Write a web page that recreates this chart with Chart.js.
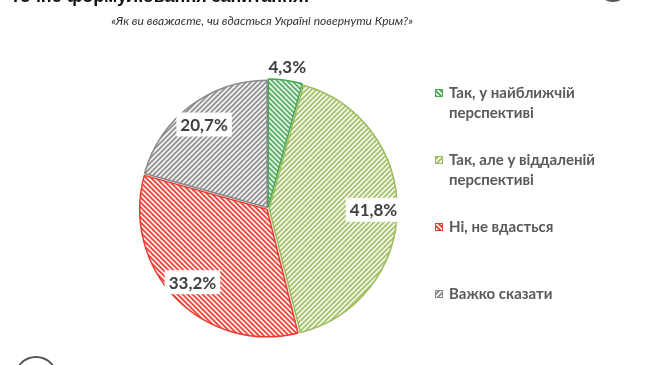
<!DOCTYPE html>
<html>
<head>
<meta charset="utf-8">
<script src="https://cdn.jsdelivr.net/npm/chart.js@4/dist/chart.umd.min.js"></script>
<style>
  html, body { margin: 0; padding: 0; background: #fff; }
  #wrap { position: relative; width: 650px; height: 365px; overflow: hidden; }
  #cut { position: absolute; left: 10px; top: -14px; font: bold 18px "Liberation Sans", Arial, sans-serif; color: #111; white-space: nowrap; }
  .ring { position: absolute; border: 2px solid #555; border-radius: 50%; }
</style>
</head>
<body>
<div id="wrap">
  <div id="cut">Точне формулювання запитання:</div>
  <div class="ring" style="left:597px; top:-30px; width:28px; height:28px;"></div>
  <div class="ring" style="left:14px; top:356px; width:40px; height:40px;"></div>
  <canvas id="myChart" width="650" height="365"></canvas>
</div>
<script>
const subtitle = '«Як ви вважаєте, чи вдасться Україні повернути Крим?»';
const categories = [
    ['Так, у найближчій', 'перспективі'],
    ['Так, але у віддаленій', 'перспективі'],
    ['Ні, не вдасться'],
    ['Важко сказати']
];
const values = [4.3, 41.8, 33.2, 20.7];
const valueLabels = ['4,3%', '41,8%', '33,2%', '20,7%'];
const colors = ['#45a853', '#9dbd5c', '#ec3a2e', '#888888'];
const hatchDir = ['\\', '/', '\\', '/'];

// штриховка для секторів
function makeHatch(color, dir) {
    const s = 5;
    const c = document.createElement('canvas');
    c.width = s; c.height = s;
    const g = c.getContext('2d');
    g.fillStyle = '#fff';
    g.fillRect(0, 0, s, s);
    g.strokeStyle = color;
    g.lineWidth = 1.8;
    g.beginPath();
    if (dir === '/') {
        g.moveTo(-1, s + 1); g.lineTo(s + 1, -1);
        g.moveTo(-1, 1); g.lineTo(1, -1);
        g.moveTo(s - 1, s + 1); g.lineTo(s + 1, s - 1);
    } else {
        g.moveTo(-1, -1); g.lineTo(s + 1, s + 1);
        g.moveTo(s - 1, -1); g.lineTo(s + 1, 1);
        g.moveTo(-1, s - 1); g.lineTo(1, s + 1);
    }
    g.stroke();
    return g.createPattern(c, 'repeat');
}

const ctx = document.getElementById('myChart').getContext('2d');
const patterns = colors.map((c, i) => makeHatch(c, hatchDir[i]));

// підписи значень з білим фоном
const valueLabelPlugin = {
    id: 'valueLabels',
    afterDatasetsDraw(chart) {
        const meta = chart.getDatasetMeta(0);
        const g = chart.ctx;
        g.save();
        g.font = 'bold 17px Lato, "Open Sans", sans-serif';
        g.textAlign = 'center';
        g.textBaseline = 'middle';
        meta.data.forEach((arc, i) => {
            const mid = (arc.startAngle + arc.endAngle) / 2;
            const off = arc.options.offset || 0;
            const r = i === 0 ? arc.outerRadius + 11 : arc.outerRadius * 0.79;
            const x = arc.x + Math.cos(mid) * (r + off);
            const y = arc.y + Math.sin(mid) * (r + off);
            const w = g.measureText(valueLabels[i]).width;
            if (i !== 0) {
                g.fillStyle = '#fff';
                g.fillRect(x - w / 2 - 4, y - 12, w + 8, 24);
            }
            g.fillStyle = '#404040';
            g.fillText(valueLabels[i], x, y + 1);
        });
        g.restore();
    }
};

// легенда праворуч
const legendPlugin = {
    id: 'sideLegend',
    afterDraw(chart) {
        const g = chart.ctx;
        const rows = [93, 160, 227, 294];
        g.save();
        g.font = 'bold 15px Lato, "Open Sans", sans-serif';
        g.textBaseline = 'middle';
        categories.forEach((lines, i) => {
            const y = rows[i];
            g.fillStyle = patterns[i];
            g.fillRect(435, y - 4, 8, 8);
            g.strokeStyle = colors[i];
            g.lineWidth = 1;
            g.strokeRect(435.5, y - 3.5, 7, 7);
            g.fillStyle = '#595959';
            lines.forEach((t, k) => g.fillText(t, 449, y + k * 20));
        });
        g.restore();
    }
};

new Chart(ctx, {
    type: 'pie',
    data: {
        labels: categories.map(l => l.join(' ')),
        datasets: [{
            data: values,
            backgroundColor: patterns,
            borderColor: colors,
            borderWidth: 1.5,
            offset: 5
        }]
    },
    options: {
        responsive: false,
        animation: false,
        layout: {
            padding: { left: 137, right: 251, top: 78, bottom: 26 }
        },
        plugins: {
            legend: { display: false },
            tooltip: { enabled: false },
            title: { display: false }
        }
    },
    plugins: [valueLabelPlugin, legendPlugin, {
        id: 'subtitleText',
        afterDraw(chart) {
            const g = chart.ctx;
            g.save();
            g.font = 'italic 12px Lato, "Open Sans", sans-serif';
            g.fillStyle = '#333';
            g.textAlign = 'center';
            g.textBaseline = 'middle';
            g.fillText(subtitle, 262, 21);
            g.restore();
        }
    }]
});
</script>
</body>
</html>
